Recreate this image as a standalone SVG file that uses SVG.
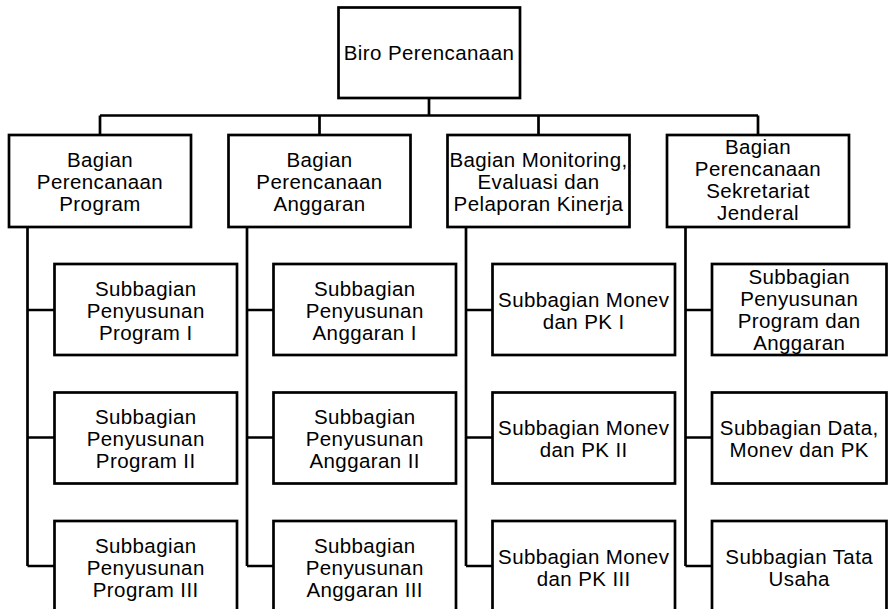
<svg xmlns="http://www.w3.org/2000/svg" width="888" height="609" viewBox="0 0 888 609">
<style>
rect{fill:#fff;stroke:#000;stroke-width:2.7}
.c path{fill:none;stroke:#000;stroke-width:2.7}
text{font-family:"Liberation Sans",Arial,sans-serif;font-size:20.5px;letter-spacing:0.4px;fill:#000;text-anchor:middle}
</style>
<rect x="0" y="0" width="888" height="609" style="stroke:none"/>
<g class="c" id="connectors">
<path d="M429 98V115.5M100 115.5H758M100 115.5V135M319.5 115.5V135M538.5 115.5V135M758 115.5V135"/>
<path d="M27.5 227V566M27.5 310H54.5M27.5 437.5H54.5M27.5 566H54.5"/>
<path d="M247 227V566M247 310H273.5M247 437.5H273.5M247 566H273.5"/>
<path d="M466 227V566M466 310H492.5M466 437.5H492.5M466 566H492.5"/>
<path d="M685.5 227V566M685.5 310H712M685.5 437.5H712M685.5 566H712"/>
</g>
<g id="biro"><rect x="338.5" y="7.5" width="181.5" height="90.5"/><text x="429" y="59.5">Biro Perencanaan</text></g>
<g id="bpp"><rect x="9" y="135" width="182" height="92"/><text x="100" y="167">Bagian</text><text x="100" y="189">Perencanaan</text><text x="100" y="211">Program</text></g>
<g id="bpa"><rect x="228.5" y="135" width="182" height="92"/><text x="319.5" y="167">Bagian</text><text x="319.5" y="189">Perencanaan</text><text x="319.5" y="211">Anggaran</text></g>
<g id="bme"><rect x="447.5" y="135" width="182" height="92"/><text x="538.5" y="167">Bagian Monitoring,</text><text x="538.5" y="189">Evaluasi dan</text><text x="538.5" y="211">Pelaporan Kinerja</text></g>
<g id="bps"><rect x="667" y="135" width="182" height="92"/><text x="758" y="154">Bagian</text><text x="758" y="176">Perencanaan</text><text x="758" y="198">Sekretariat</text><text x="758" y="220">Jenderal</text></g>
<g id="spp1"><rect x="54.5" y="264" width="182.5" height="91"/><text x="145.7" y="295.5">Subbagian</text><text x="145.7" y="317.5">Penyusunan</text><text x="145.7" y="339.5">Program I</text></g>
<g id="spp2"><rect x="54.5" y="392.5" width="182.5" height="91"/><text x="145.7" y="424">Subbagian</text><text x="145.7" y="446">Penyusunan</text><text x="145.7" y="468">Program II</text></g>
<g id="spp3"><rect x="54.5" y="521" width="182.5" height="91"/><text x="145.7" y="552.5">Subbagian</text><text x="145.7" y="574.5">Penyusunan</text><text x="145.7" y="596.5">Program III</text></g>
<g id="spa1"><rect x="273.5" y="264" width="182.5" height="91"/><text x="364.7" y="295.5">Subbagian</text><text x="364.7" y="317.5">Penyusunan</text><text x="364.7" y="339.5">Anggaran I</text></g>
<g id="spa2"><rect x="273.5" y="392.5" width="182.5" height="91"/><text x="364.7" y="424">Subbagian</text><text x="364.7" y="446">Penyusunan</text><text x="364.7" y="468">Anggaran II</text></g>
<g id="spa3"><rect x="273.5" y="521" width="182.5" height="91"/><text x="364.7" y="552.5">Subbagian</text><text x="364.7" y="574.5">Penyusunan</text><text x="364.7" y="596.5">Anggaran III</text></g>
<g id="smp1"><rect x="492.5" y="264" width="182.5" height="91"/><text x="583.7" y="306.5">Subbagian Monev</text><text x="583.7" y="328.5">dan PK I</text></g>
<g id="smp2"><rect x="492.5" y="392.5" width="182.5" height="91"/><text x="583.7" y="435">Subbagian Monev</text><text x="583.7" y="457">dan PK II</text></g>
<g id="smp3"><rect x="492.5" y="521" width="182.5" height="91"/><text x="583.7" y="563.5">Subbagian Monev</text><text x="583.7" y="585.5">dan PK III</text></g>
<g id="sppa"><rect x="712" y="264" width="174.5" height="91"/><text x="799.2" y="284">Subbagian</text><text x="799.2" y="306">Penyusunan</text><text x="799.2" y="328">Program dan</text><text x="799.2" y="350">Anggaran</text></g>
<g id="sdm"><rect x="712" y="392.5" width="174.5" height="91"/><text x="799.2" y="435">Subbagian Data,</text><text x="799.2" y="457">Monev dan PK</text></g>
<g id="stu"><rect x="712" y="521" width="174.5" height="91"/><text x="799.2" y="563.5">Subbagian Tata</text><text x="799.2" y="585.5">Usaha</text></g>
</svg>
